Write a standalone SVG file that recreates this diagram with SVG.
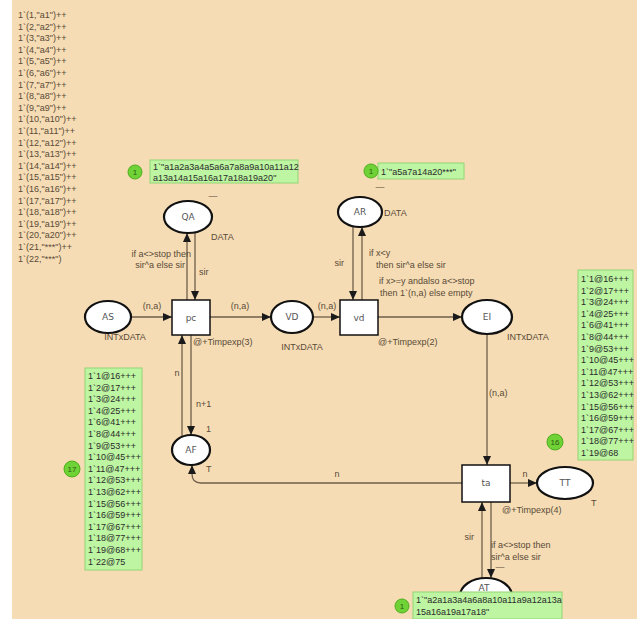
<svg xmlns="http://www.w3.org/2000/svg" width="637" height="619" viewBox="0 0 637 619">
<style>
.pl{fill:#fff;stroke:#111;stroke-width:2.2}
.tr{fill:#fff;stroke:#111;stroke-width:1.5}
.nl{font-family:"DejaVu Sans",sans-serif;font-size:9px;fill:#555;text-anchor:middle}
.lb{font-family:"Liberation Sans",sans-serif;font-size:9px;fill:#5a4a38}
.lst{font-family:"Liberation Sans",sans-serif;font-size:9px;fill:#5a4a38}
.tk{font-family:"Liberation Sans",sans-serif;font-size:9px;fill:#2b2b2b}
.gb{fill:#bdf5a2;stroke:#93d474;stroke-width:1}
.gc{fill:#6fd236;stroke:#4fae1c;stroke-width:1}
.gct{font-family:"Liberation Sans",sans-serif;font-size:8px;fill:#2d5a12;text-anchor:middle}
.arc{fill:none;stroke:#6e5e4b;stroke-width:1.3}
.ar{marker-end:url(#ah)}
</style>
<defs>
<marker id="ah" markerUnits="userSpaceOnUse" markerWidth="9" markerHeight="8" refX="9" refY="4" orient="auto">
<path d="M0,0 L9,4 L0,8 z" fill="#1a1a1a"/>
</marker>
</defs>
<rect x="0" y="0" width="637" height="619" fill="#ffffff"/>
<rect x="12" y="0" width="625" height="619" fill="#f5dcb4"/>

<g id="initial-list" class="lst">
<text x="18" y="18">1`(1,"a1")++</text>
<text x="18" y="29.6">1`(2,"a2")++</text>
<text x="18" y="41.2">1`(3,"a3")++</text>
<text x="18" y="52.8">1`(4,"a4")++</text>
<text x="18" y="64.4">1`(5,"a5")++</text>
<text x="18" y="76">1`(6,"a6")++</text>
<text x="18" y="87.6">1`(7,"a7")++</text>
<text x="18" y="99.2">1`(8,"a8")++</text>
<text x="18" y="110.8">1`(9,"a9")++</text>
<text x="18" y="122.4">1`(10,"a10")++</text>
<text x="18" y="134">1`(11,"a11")++</text>
<text x="18" y="145.6">1`(12,"a12")++</text>
<text x="18" y="157.2">1`(13,"a13")++</text>
<text x="18" y="168.8">1`(14,"a14")++</text>
<text x="18" y="180.4">1`(15,"a15")++</text>
<text x="18" y="192">1`(16,"a16")++</text>
<text x="18" y="203.6">1`(17,"a17")++</text>
<text x="18" y="215.2">1`(18,"a18")++</text>
<text x="18" y="226.8">1`(19,"a19")++</text>
<text x="18" y="238.4">1`(20,"a20")++</text>
<text x="18" y="250">1`(21,"***")++</text>
<text x="18" y="261.6">1`(22,"***")</text>
</g>

<g id="connectors">
<path class="arc ar" d="M131,317 L172,317"/>
<path class="arc ar" d="M210,317 L271,317"/>
<path class="arc ar" d="M313,317 L340,317"/>
<path class="arc ar" d="M378,317 L462,317"/>
<path class="arc ar" d="M487,334 L487,465"/>
<path class="arc ar" d="M510,483 L537,483"/>
<path class="arc ar" d="M462,483 L201,483 Q192,483 192,474 L192,465"/>
<path class="arc ar" d="M187,300 L187,233"/>
<path class="arc ar" d="M195,232 L195,300"/>
<path class="arc ar" d="M182,437 L182,335"/>
<path class="arc ar" d="M191,335 L191,435"/>
<path class="arc ar" d="M353,226 L353,300"/>
<path class="arc ar" d="M362,300 L362,227"/>
<path class="arc ar" d="M491,502 L491,578"/>
<path class="arc ar" d="M482,578 L482,502"/>
<g class="lb">
<text x="152" y="309" text-anchor="middle">(n,a)</text>
<text x="240" y="309" text-anchor="middle">(n,a)</text>
<text x="327" y="309" text-anchor="middle">(n,a)</text>
<text x="489" y="396">(n,a)</text>
<text x="525" y="477" text-anchor="middle">n</text>
<text x="337" y="477" text-anchor="middle">n</text>
<text x="177" y="376" text-anchor="middle">n</text>
<text x="196" y="407">n+1</text>
<text x="191" y="257" text-anchor="end">if a&lt;&gt;stop then</text>
<text x="185" y="268" text-anchor="end">sir^a else sir</text>
<text x="199" y="275">sir</text>
<text x="344" y="266" text-anchor="end">sir</text>
<text x="369" y="256">if x&lt;y</text>
<text x="376" y="268">then sir^a else sir</text>
<text x="379" y="284">if x&gt;=y andalso a&lt;&gt;stop</text>
<text x="380" y="296">then 1`(n,a) else empty</text>
<text x="474" y="540" text-anchor="end">sir</text>
<text x="491" y="548">if a&lt;&gt;stop then</text>
<text x="491" y="560">sir^a else sir</text>
</g>
</g>

<g id="QA">
<ellipse class="pl" cx="188" cy="217" rx="24" ry="16"/>
<text class="nl" x="188" y="220">QA</text>
<text class="lb" x="211" y="240">DATA</text>
<text class="lb" x="213" y="199" text-anchor="middle" font-size="7">—</text>
</g>
<g id="QA-marking">
<rect class="gb" x="150" y="160" width="148" height="23"/>
<text class="tk" x="153" y="170" font-size="8.6">1`"a1a2a3a4a5a6a7a8a9a10a11a12</text>
<text class="tk" x="153" y="181" font-size="8.6">a13a14a15a16a17a18a19a20"</text>
<circle class="gc" cx="135" cy="172" r="7"/>
<text class="gct" x="135" y="175">1</text>
</g>

<g id="AS">
<ellipse class="pl" cx="108" cy="317" rx="23" ry="16"/>
<text class="nl" x="108" y="320">AS</text>
<text class="lb" x="125" y="340" text-anchor="middle">INTxDATA</text>
</g>

<g id="pc">
<rect class="tr" x="172" y="300" width="38" height="35"/>
<text class="nl" x="191" y="321">pc</text>
<text class="lb" x="193" y="345">@+Timpexp(3)</text>
</g>

<g id="VD">
<ellipse class="pl" cx="292" cy="317" rx="21" ry="16"/>
<text class="nl" x="292" y="320">VD</text>
<text class="lb" x="302" y="350" text-anchor="middle">INTxDATA</text>
</g>

<g id="vd">
<rect class="tr" x="340" y="300" width="38" height="35"/>
<text class="nl" x="359" y="321">vd</text>
<text class="lb" x="378" y="345">@+Timpexp(2)</text>
</g>

<g id="AR">
<ellipse class="pl" cx="360" cy="212" rx="22" ry="15"/>
<text class="nl" x="360" y="215">AR</text>
<text class="lb" x="384" y="216">DATA</text>
<text class="lb" x="380" y="190" text-anchor="middle" font-size="7">—</text>
</g>
<g id="AR-marking">
<rect class="gb" x="378" y="163" width="86" height="16"/>
<text class="tk" x="381" y="175" font-size="8.6">1`"a5a7a14a20***"</text>
<circle class="gc" cx="371" cy="171" r="7"/>
<text class="gct" x="371" y="174">1</text>
</g>

<g id="EI">
<ellipse class="pl" cx="487" cy="317" rx="25" ry="17"/>
<text class="nl" x="487" y="320">EI</text>
<text class="lb" x="507" y="340">INTxDATA</text>
</g>

<g id="AF">
<ellipse class="pl" cx="191" cy="450" rx="19" ry="15"/>
<text class="nl" x="191" y="453">AF</text>
<text class="lb" x="206" y="432">1</text>
<text class="lb" x="206" y="472">T</text>
</g>

<g id="AF-marking">
<rect class="gb" x="85" y="368" width="57" height="202"/>
<g class="tk">
<text x="88" y="379">1`1@16+++</text>
<text x="88" y="390.6">1`2@17+++</text>
<text x="88" y="402.2">1`3@24+++</text>
<text x="88" y="413.8">1`4@25+++</text>
<text x="88" y="425.4">1`6@41+++</text>
<text x="88" y="437">1`8@44+++</text>
<text x="88" y="448.6">1`9@53+++</text>
<text x="88" y="460.2">1`10@45+++</text>
<text x="88" y="471.8">1`11@47+++</text>
<text x="88" y="483.4">1`12@53+++</text>
<text x="88" y="495">1`13@62+++</text>
<text x="88" y="506.6">1`15@56+++</text>
<text x="88" y="518.2">1`16@59+++</text>
<text x="88" y="529.8">1`17@67+++</text>
<text x="88" y="541.4">1`18@77+++</text>
<text x="88" y="553">1`19@68+++</text>
<text x="88" y="564.6">1`22@75</text>
</g>
<circle class="gc" cx="72" cy="469" r="8"/>
<text class="gct" x="72" y="472">17</text>
</g>

<g id="ta">
<rect class="tr" x="462" y="465" width="48" height="37"/>
<text class="nl" x="486" y="486">ta</text>
<text class="lb" x="502" y="513">@+Timpexp(4)</text>
</g>

<g id="TT">
<ellipse class="pl" cx="565" cy="483" rx="28" ry="16"/>
<text class="nl" x="565" y="486">TT</text>
<text class="lb" x="591" y="506">T</text>
</g>

<g id="TT-marking">
<rect class="gb" x="578" y="270" width="55" height="190"/>
<g class="tk">
<text x="581" y="282">1`1@16+++</text>
<text x="581" y="293.6">1`2@17+++</text>
<text x="581" y="305.2">1`3@24+++</text>
<text x="581" y="316.8">1`4@25+++</text>
<text x="581" y="328.4">1`6@41+++</text>
<text x="581" y="340">1`8@44+++</text>
<text x="581" y="351.6">1`9@53+++</text>
<text x="581" y="363.2">1`10@45+++</text>
<text x="581" y="374.8">1`11@47+++</text>
<text x="581" y="386.4">1`12@53+++</text>
<text x="581" y="398">1`13@62+++</text>
<text x="581" y="409.6">1`15@56+++</text>
<text x="581" y="421.2">1`16@59+++</text>
<text x="581" y="432.8">1`17@67+++</text>
<text x="581" y="444.4">1`18@77+++</text>
<text x="581" y="456">1`19@68</text>
</g>
<circle class="gc" cx="555" cy="442" r="8"/>
<text class="gct" x="555" y="445">16</text>
</g>

<g id="AT">
<ellipse class="pl" cx="486" cy="596" rx="26" ry="18"/>
<text class="nl" x="484" y="591">AT</text>
<text class="lb" x="500" y="570" text-anchor="middle" font-size="7">—</text>
</g>
<g id="AT-marking">
<rect class="gb" x="413" y="592" width="149" height="27"/>
<text class="tk" x="416" y="603" font-size="8.6">1`"a2a1a3a4a6a8a10a11a9a12a13a</text>
<text class="tk" x="416" y="615" font-size="8.6">15a16a19a17a18"</text>
<circle class="gc" cx="402" cy="606" r="7"/>
<text class="gct" x="402" y="609">1</text>
</g>
</svg>
